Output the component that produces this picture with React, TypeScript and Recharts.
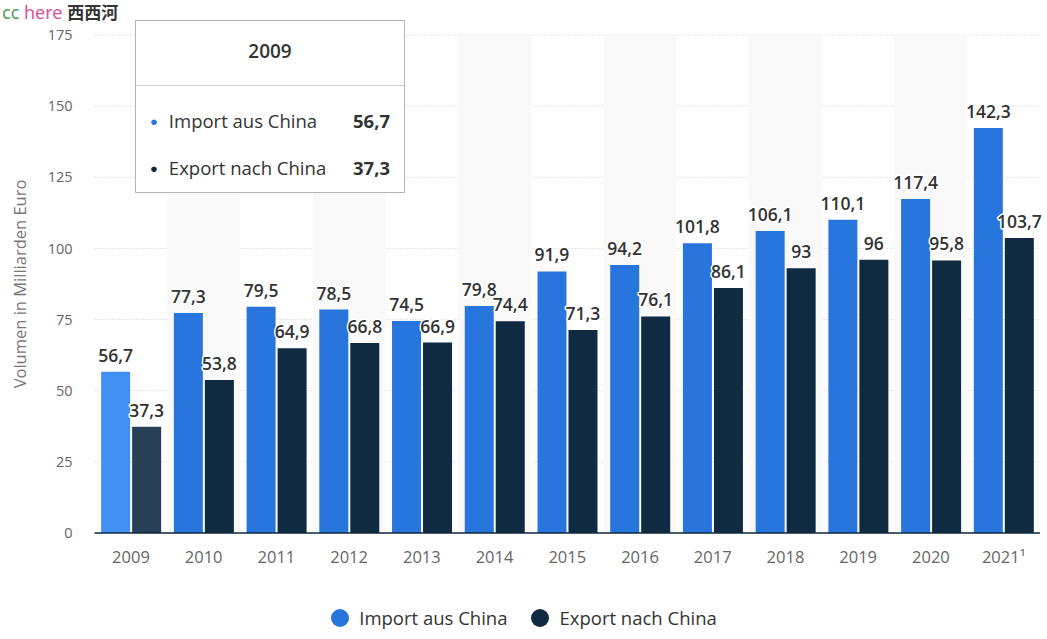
import React from "react";
import {
  BarChart, Bar, XAxis, YAxis, CartesianGrid, Tooltip, Legend, LabelList, Cell, ReferenceArea,
} from "recharts";

const years = ["2009", "2010", "2011", "2012", "2013", "2014", "2015", "2016", "2017", "2018", "2019", "2020", "2021¹"];
const importValues = [56.7, 77.3, 79.5, 78.5, 74.5, 79.8, 91.9, 94.2, 101.8, 106.1, 110.1, 117.4, 142.3];
const exportValues = [37.3, 53.8, 64.9, 66.8, 66.9, 74.4, 71.3, 76.1, 86.1, 93, 96, 95.8, 103.7];
const yTicks = [0, 25, 50, 75, 100, 125, 150, 175];

const series = [
  { key: "imp", name: "Import aus China", color: "#2876dd", hover: "#418ff2" },
  { key: "exp", name: "Export nach China", color: "#0f2a41", hover: "#273f57" },
];

const data = years.map((year, i) => ({ year, imp: importValues[i], exp: exportValues[i] }));
const hoverIndex = 0;
const font = "'Open Sans', sans-serif";
const fmt = (v: number) => String(v).replace(".", ",");

const ValueLabel = (props: any) => {
  const { x, y, width, value } = props;
  return (
    <text
      x={x + width / 2}
      y={y - 10}
      textAnchor="middle"
      fontFamily={font}
      fontSize={17.5}
      fontWeight={600}
      fill="#333"
      stroke="#fff"
      strokeWidth={3}
      paintOrder="stroke"
      strokeLinejoin="round"
    >
      {fmt(value)}
    </text>
  );
};

const TipBox = ({ payload, label }: any) => {
  if (!payload || !payload.length) return null;
  return (
    <div style={{ width: 268, height: 171, background: "#fff", border: "1px solid #b5b5b5", fontFamily: font, color: "#333" }}>
      <div style={{ height: 64, lineHeight: "60px", textAlign: "center", fontSize: 19, fontWeight: 600, borderBottom: "1px solid #d0d0d0" }}>
        {label}
      </div>
      {payload.map((p: any, i: number) => (
        <div key={p.dataKey} style={{ display: "flex", alignItems: "center", height: 47, marginTop: i === 0 ? 11 : 0, padding: "0 14px 0 14px", fontSize: 18.5 }}>
          <span style={{ color: series[i].color, fontSize: 13, marginRight: 11 }}>●</span>
          <span style={{ flex: 1 }}>{p.name}</span>
          <span style={{ fontWeight: 700 }}>{fmt(p.value)}</span>
        </div>
      ))}
    </div>
  );
};

const LegendBox = () => (
  <div style={{ display: "flex", justifyContent: "center", alignItems: "center", fontFamily: font, fontSize: 18.5, color: "#333", paddingTop: 22, paddingLeft: 8 }}>
    {series.map((s) => (
      <div key={s.key} style={{ display: "flex", alignItems: "center", margin: "0 12px" }}>
        <span style={{ width: 18, height: 18, borderRadius: 9, background: s.color, display: "inline-block", marginRight: 10 }} />
        <span>{s.name}</span>
      </div>
    ))}
  </div>
);

export default function App() {
  return (
    <div style={{ position: "absolute", left: 0, top: 0, width: 1047, height: 639, background: "#fff" }}>
      <div style={{ position: "absolute", left: 2, top: -1, fontSize: 18, fontFamily: "'Noto Sans', 'Noto Sans CJK SC', sans-serif", zIndex: 5 }}>
        <span style={{ color: "#4f9d4f" }}>cc</span>
        <span style={{ color: "#d9529a" }}> here </span>
        <span style={{ color: "#333", fontWeight: 700, fontFamily: "'Noto Sans CJK SC', sans-serif", fontSize: 17 }}>西西河</span>
      </div>
      <BarChart
        width={1047}
        height={639}
        data={data}
        margin={{ top: 35, right: 7, bottom: 0, left: 0 }}
        barCategoryGap="9%"
        barGap={2}
      >
        {years.map((y, i) =>
          i % 2 === 1 ? (
            <ReferenceArea key={y} x1={y} x2={y} fill="#f9f9f9" fillOpacity={1} stroke="none" ifOverflow="extendDomain" />
          ) : null
        )}
        <CartesianGrid vertical={false} stroke="#c8c8c8" strokeDasharray="1 2" />
        <XAxis
          dataKey="year"
          tickSize={0}
          tickMargin={18}
          height={50}
          axisLine={{ stroke: "#0f2a41", strokeWidth: 1.5 }}
          tick={{ fontSize: 16.5, fill: "#666", fontFamily: font }}
        />
        <YAxis
          domain={[0, 175]}
          ticks={yTicks}
          width={94.6}
          tickSize={0}
          tickMargin={22}
          axisLine={false}
          tick={{ fontSize: 14.5, fill: "#666", fontFamily: font }}
          label={{ value: "Volumen in Milliarden Euro", angle: -90, position: "insideLeft", offset: 20, style: { textAnchor: "middle", fontSize: 16.5, fill: "#777", fontFamily: font } }}
        />
        <Tooltip
          active={true}
          defaultIndex={hoverIndex}
          cursor={false}
          isAnimationActive={false}
          position={{ x: 135, y: 20 }}
          content={<TipBox />}
          wrapperStyle={{ zIndex: 10 }}
        />
        <Legend verticalAlign="bottom" wrapperStyle={{ height: 56 }} content={<LegendBox />} />
        {series.map((s) => (
          <Bar key={s.key} dataKey={s.key} name={s.name} fill={s.color} isAnimationActive={false} activeBar={false}>
            {data.map((d, i) => (
              <Cell key={d.year} fill={i === hoverIndex ? s.hover : s.color} />
            ))}
            <LabelList dataKey={s.key} content={<ValueLabel />} />
          </Bar>
        ))}
      </BarChart>
    </div>
  );
}
